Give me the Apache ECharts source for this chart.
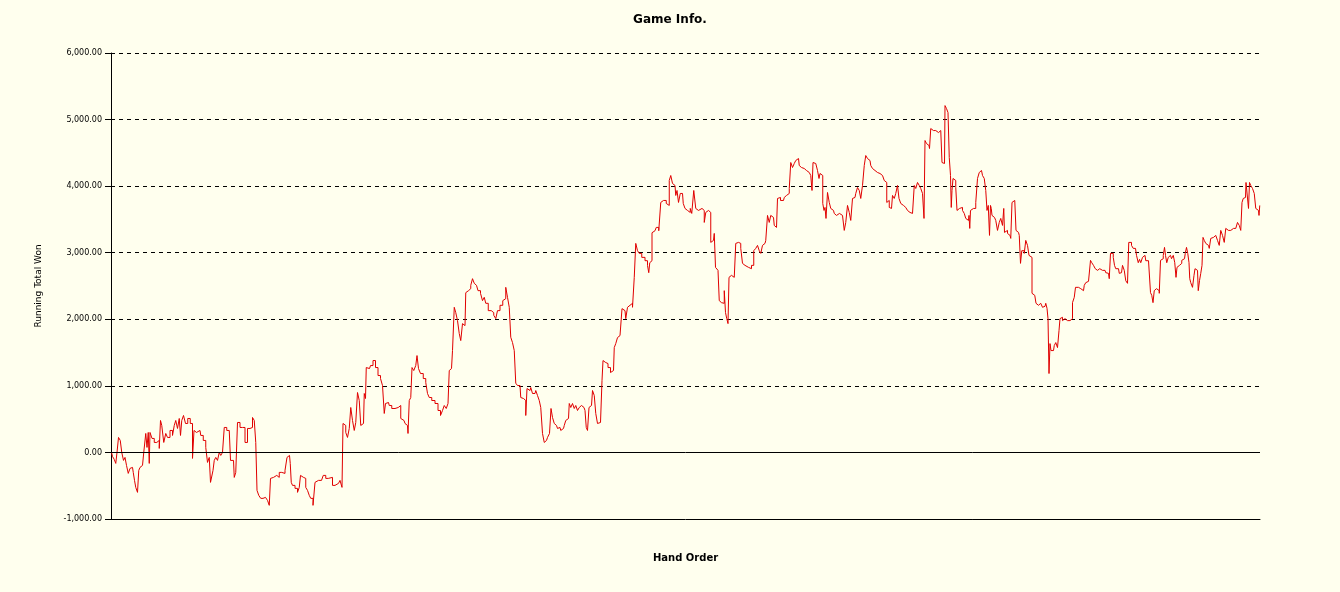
<!DOCTYPE html>
<html>
<head>
<meta charset="utf-8">
<script src="https://cdn.jsdelivr.net/npm/echarts@6/dist/echarts.min.js"></script>
<style>
html,body{margin:0;padding:0;background:#FFFFEE;}
#chart{width:1340px;height:592px;}
</style>
</head>
<body>
<div id="chart"></div>
<script>
const titleText = 'Game Info.';
const xAxisName = 'Hand Order';
const yAxisName = 'Running Total Won';
const yTicks = [-1000, 0, 1000, 2000, 3000, 4000, 5000, 6000];

const hands = [1,5,8,11,13,17,20,23,27,29,33,36,40,43,46,48,51,55,56,60,63,68,71,73,76,77,79,85,88,95,98,100,103,108,111,115,121,125,128,131,135,138,140,143,147,151,156,161,165,167,171,178,181,188,191,195,198,200,203,205,208,211,215,218,221,225,228,235,238,240,245,248,251,255,261,265,271,275,281,285,288,291,293,298,301,307,311,315,318,320,325,328,335,338,345,351,353,357,360,361,365,371,375,378,380,385,388,391,395,398,401,407,409,415,421,428,431,438,448,455,461,463,465,468,471,475,478,481,485,488,491,495,498,501,505,508,510,511,517,521,527,531,537,541,545,548,550,555,558,565,571,578,581,586,590,593,595,598,601,603,608,611,613,617,621,628,631,635,638,645,651,657,661,665,668,673,675,678,681,685,688,691,695,698,701,705,708,711,715,718,721,725,728,731,737,741,745,748,751,758,763,768,771,775,781,786,788,791,795,798,801,805,808,811,815,818,821,825,828,831,833,838,841,845,848,851,855,858,861,865,868,871,875,879,881,885,888,891,895,898,901,905,908,911,915,918,921,925,928,931,935,938,941,946,950,951,955,957,961,965,968,971,975,979,981,983,985,988,991,997,1001,1005,1008,1011,1015,1018,1021,1023,1028,1031,1035,1038,1041,1045,1048,1051,1055,1058,1065,1071,1075,1076,1079,1081,1083,1088,1093,1098,1101,1105,1108,1113,1115,1118,1121,1125,1128,1131,1133,1137,1140,1143,1146,1150,1153,1157,1160,1163,1168,1171,1175,1179,1185,1188,1191,1195,1198,1201,1205,1208,1210,1213,1215,1218,1221,1225,1228,1230,1233,1235,1237,1241,1245,1248,1251,1255,1258,1261,1265,1268,1275,1279,1283,1288,1291,1295,1298,1301,1305,1308,1311,1315,1318,1321,1325,1328,1331,1335,1337,1341,1345,1348,1351,1355,1358,1361,1365,1368,1371,1375,1378,1381,1385,1388,1391,1395,1398,1401,1403,1405,1408,1411,1415,1417,1419,1422,1425,1427,1429,1431,1435,1438,1441,1445,1448,1451,1457,1461,1465,1468,1471,1475,1478,1481,1485,1488,1491,1495,1498,1501,1505,1508,1511,1515,1518,1521,1525,1528,1531,1535,1538,1541,1545,1548,1550,1553,1555,1558,1561,1565,1568,1571,1575,1577,1578,1581,1585,1588,1591,1595,1598,1601,1605,1608,1611,1615,1618,1621,1625,1627,1629,1633,1636,1638,1641,1645,1648,1651,1655,1658,1661,1663,1667,1669,1673,1675,1678,1680,1681,1683,1685,1688,1691,1693,1697,1701,1705,1708,1711,1715,1717,1718,1720,1725,1728,1731,1735,1738,1741,1745,1748,1751,1753,1756,1758,1760,1761,1763,1766,1768,1771,1775,1778,1781,1785,1786,1788,1791,1795,1798,1801,1803,1806,1809,1811,1815,1818,1820,1823,1825,1828,1831,1835,1837,1839,1841,1843,1846,1849,1851,1855,1858,1861,1865,1868,1871,1873,1875,1877,1879,1881,1885,1888,1891,1895,1897,1899,1901,1905,1908,1911,1915,1918,1921,1925,1928,1930,1935,1938,1941,1945,1948,1951,1955,1958,1960,1963,1967,1970,1973,1976,1979,1981,1985,1988,1991,1995,1998,2000,2003,2006,2008,2011,2015,2018,2021,2025,2028,2031,2035,2036,2039,2043,2046,2049,2053,2056,2058,2061,2065,2068,2071,2075,2078,2080,2083,2085,2088,2091,2095,2098,2100,2103,2106,2108,2110,2113,2116,2119,2123,2126,2129,2131,2133,2137,2140,2143,2147,2150,2152,2155,2157,2158,2161,2165,2167,2169,2173,2176,2178,2181,2183,2185,2188,2191,2195,2198,2201,2205,2208,2211,2215,2218,2221,2225,2228,2231,2235,2238,2241,2245,2248,2251,2255,2258,2261,2263,2266,2269,2271,2274,2276,2278,2281,2285,2288,2291,2295,2297,2298];

const won = [0,-60,-105,-165,0,225,180,0,-120,-75,-195,-315,-240,-225,-300,-420,-525,-600,-270,-225,-195,0,285,75,300,-165,300,210,150,180,60,480,405,150,285,225,330,255,405,480,360,510,255,480,555,435,510,435,-90,330,300,330,255,180,75,-150,-75,-450,-450,-270,-120,-75,-120,0,-45,0,375,330,300,-120,-120,-375,-300,450,375,375,150,360,375,525,480,150,-570,-645,-690,-675,-645,-720,-795,-390,-375,-345,-375,-300,-315,-270,-75,-45,-165,-450,-495,-540,-600,-525,-345,-375,-390,-525,-570,-645,-690,-795,-450,-420,-420,-345,-390,-375,-495,-465,-420,-525,435,405,300,225,360,675,480,330,450,900,780,405,435,885,810,1275,1260,1305,1380,1275,1155,1110,1005,585,735,750,705,660,675,705,510,480,435,405,285,780,825,1275,1230,1305,1455,1260,1185,1110,1050,885,825,780,735,630,555,630,705,660,735,1230,1260,1530,2180,2100,1980,1785,1680,1935,1905,2400,2430,2460,2510,2610,2540,2510,2430,2390,2280,2330,2240,2130,2100,2060,2010,2130,2210,2280,2310,2480,2330,2180,1730,1650,1530,1040,1005,1005,825,810,780,555,960,930,975,885,885,930,855,780,675,285,150,180,225,285,660,525,435,405,360,375,330,360,405,480,510,735,675,735,660,705,630,675,705,675,630,375,330,675,705,930,855,585,435,450,480,1080,1380,1350,1335,1275,1200,1230,1575,1635,1725,1755,1785,2160,2130,2010,2180,2210,2240,2180,2630,3140,3030,2990,2930,2880,2810,2700,2850,2880,3300,3330,3380,3330,3755,3785,3785,3740,3710,4085,4160,4040,4010,3860,3935,3755,3890,3890,3740,3665,3635,3605,3665,3590,3935,3665,3635,3665,3635,3455,3605,3635,3605,3155,3185,3290,2780,2760,2735,2280,2250,2240,2430,2100,2010,1935,2630,2660,2630,2660,3140,3155,3140,3065,2840,2810,2780,2760,2810,3030,3065,3110,3030,2990,3110,3140,3185,3560,3455,3560,3530,3410,3380,3815,3830,3785,3785,3830,3860,3890,3965,4355,4280,4340,4385,4415,4310,4280,4265,4235,4235,4205,4190,4160,3935,4355,4340,4310,4235,4115,4190,4160,3740,3635,3680,3515,3905,3755,3665,3635,3590,3560,3590,3560,3530,3335,3455,3710,3605,3485,3815,3830,3890,3980,3935,3815,4010,4310,4460,4415,4385,4310,4265,4235,4205,4235,4190,4160,4160,4085,4055,3755,3785,3680,3665,3860,3815,3890,4010,3815,3785,3740,3710,3680,3665,3635,3605,3590,3590,4010,3965,4055,4010,3965,3890,3515,4685,4640,4610,4565,4865,4835,4835,4835,4805,4835,4805,4355,4340,5210,5165,5105,4430,4160,3680,3935,4115,4085,3980,3635,3665,3680,3635,3590,3515,3485,3560,3365,3635,3665,3665,3755,4115,4205,4235,4160,4115,3935,3635,3710,3260,3710,3665,3560,3590,3530,3485,3335,3455,3515,3410,3665,3305,3335,3290,3260,3215,3755,3785,3785,3335,3305,3260,2840,3030,3030,2990,3185,3110,2960,2930,2930,2390,2360,2330,2240,2210,2240,2210,2180,2195,2240,2165,2010,1185,1635,1530,1530,1605,1650,1575,1830,2010,2030,1980,2010,1980,2010,1980,2010,2250,2330,2480,2480,2460,2480,2430,2510,2550,2570,2580,2885,2850,2810,2760,2735,2760,2780,2735,2760,2735,2700,2690,2610,2990,2990,2930,2810,2760,2760,2690,2700,2810,2735,2580,2540,3155,3155,3110,3065,3065,2960,2850,2900,2850,2930,2960,2880,2880,2880,2400,2360,2250,2430,2460,2430,2390,2885,2910,2960,3080,2960,2850,2930,2960,2910,2960,2850,2630,2780,2810,2840,2885,2910,2990,3080,2990,2850,2610,2550,2480,2660,2760,2735,2430,2580,2690,2810,3230,3185,3140,3110,3065,3215,3230,3260,3290,3185,3110,3335,3260,3155,3365,3335,3335,3365,3365,3365,3380,3455,3410,3335,3755,3815,3830,4055,4085,3665,4055,4010,3965,3890,3665,3635,3560,3710];

function fmt(v) {
  const neg = v < 0;
  const s = Math.abs(v).toFixed(2);
  const parts = s.split('.');
  parts[0] = parts[0].replace(/\B(?=(\d{3})+(?!\d))/g, ',');
  return (neg ? '-' : '') + parts.join('.');
}

const seriesData = hands.map((h, i) => [h, won[i]]);
const chart = echarts.init(document.getElementById('chart'), null, {renderer: 'canvas'});
const font = 'Tahoma, "DejaVu Sans", Verdana, sans-serif';
chart.setOption({
  backgroundColor: '#FFFFEE',
  animation: false,
  title: {
    text: titleText,
    left: 'center',
    top: 9,
    textStyle: {fontFamily: font, fontSize: 12, fontWeight: 'bold', color: '#000'}
  },
  grid: {left: 111, right: 80, top: 53, bottom: 73, containLabel: false},
  xAxis: {
    type: 'value',
    min: 0,
    max: hands[hands.length - 1],
    name: xAxisName,
    nameLocation: 'middle',
    nameGap: 34,
    nameTextStyle: {fontFamily: font, fontSize: 10, fontWeight: 'bold', color: '#000'},
    axisLine: {show: true, onZero: false, lineStyle: {color: '#000', width: 1}},
    axisTick: {show: false},
    axisLabel: {show: false},
    splitLine: {show: false}
  },
  yAxis: {
    type: 'value',
    min: -1000,
    max: 6000,
    interval: 1000,
    name: yAxisName,
    nameLocation: 'middle',
    nameRotate: 90,
    nameGap: 68,
    nameTextStyle: {fontFamily: font, fontSize: 9, color: '#000'},
    axisLine: {show: true, lineStyle: {color: '#000', width: 1}},
    axisTick: {show: true, length: 6, lineStyle: {color: '#000'}},
    axisLabel: {
      margin: 9,
      fontFamily: font,
      fontSize: 8,
      color: '#000',
      formatter: v => fmt(v)
    },
    splitLine: {show: true, lineStyle: {color: '#000', type: [4, 4], width: 1}}
  },
  series: [{
    type: 'line',
    data: seriesData,
    step: 'middle',
    showSymbol: false,
    symbol: 'none',
    lineStyle: {color: '#E00000', width: 1},
    itemStyle: {color: '#E00000'},
    markLine: {
      silent: true,
      symbol: ['none', 'none'],
      label: {show: false},
      lineStyle: {color: '#000', type: 'solid', width: 1},
      data: [{yAxis: yTicks[1]}]
    },
    z: 3
  }]
});
</script>
</body>
</html>
